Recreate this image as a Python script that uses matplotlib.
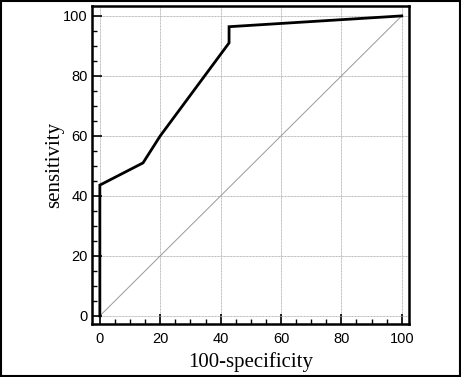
import numpy as np
import matplotlib.pyplot as plt
from matplotlib.patches import Rectangle
from matplotlib.ticker import MultipleLocator

# ROC curve
fpr = [0, 0, 14.3, 20, 42.8, 42.8, 100]
tpr = [0, 43.6, 51, 60, 91, 96.4, 100]
diag = [0, 100]
ticks = [0, 20, 40, 60, 80, 100]

fig = plt.figure(figsize=(4.61, 3.77), dpi=100)
ax = fig.add_axes([92 / 461, 1 - 324 / 377, 317 / 461, 318 / 377])

ax.plot(diag, diag, color='#999999', lw=0.7)
ax.plot(fpr, tpr, color='black', lw=2.0, solid_joinstyle='miter')

ax.set_xlim(-2.6, 102.4)
ax.set_ylim(-2.7, 103.3)
ax.set_xticks(ticks)
ax.set_yticks(ticks)
ax.xaxis.set_minor_locator(MultipleLocator(5))
ax.yaxis.set_minor_locator(MultipleLocator(5))
ax.tick_params(which='major', direction='in', length=7, width=1.2, labelsize=10.5, pad=6)
ax.tick_params(which='minor', direction='in', length=3.5, width=1)
ax.tick_params(axis='y', pad=3)
for lab in ax.get_xticklabels() + ax.get_yticklabels():
    lab.set_family('Liberation Sans')
ax.grid(True, color='#b8b8b8', lw=0.7, ls=(0, (1, 0.5)))
for s in ax.spines.values():
    s.set_linewidth(1.8)

ax.set_xlabel('100-specificity', family='Liberation Serif', fontsize=15, labelpad=4)
ax.set_ylabel('sensitivity', family='Liberation Serif', fontsize=15, labelpad=-1)

fig.patches.append(Rectangle((0.002, 0.003), 0.996, 0.994, transform=fig.transFigure,
                             fill=False, edgecolor='black', lw=1.5))

fig.savefig('out.png', dpi=100)
